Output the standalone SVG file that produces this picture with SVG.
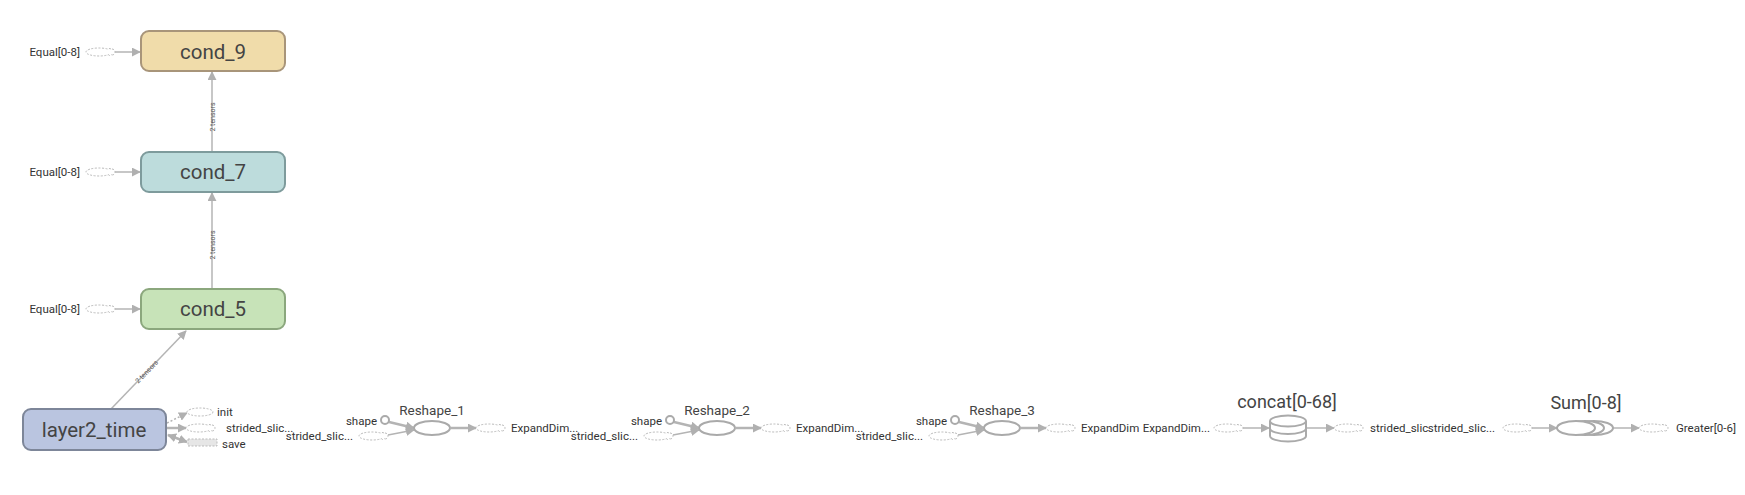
<svg xmlns="http://www.w3.org/2000/svg" width="1745" height="495" viewBox="0 0 1745 495">
<style>
text{font-family:Roboto,"Liberation Sans",sans-serif;fill:#333}
.lbl{font-size:11.5px;dominant-baseline:central}
.big{font-size:20.5px;text-anchor:middle;dominant-baseline:central;fill:#444}
.op{font-size:13.5px;text-anchor:middle;fill:#444}
.grp{font-size:18px;text-anchor:middle;fill:#444}
.et{font-size:7px;text-anchor:middle;dominant-baseline:central;fill:#555}
.e{stroke:#b4b4b4;stroke-width:1.5;fill:none}
.ew{stroke:#b4b4b4;stroke-width:2.5;fill:none}
.dot{stroke:#b4b4b4;stroke-width:1.5;fill:none;stroke-dasharray:2,2}
.ser{stroke:#bbb;stroke-width:1;fill:#fff;stroke-dasharray:2,1.5}
.opn{stroke:#aaa;stroke-width:2;fill:#fff}
</style>
<defs>
<marker id="ah" viewBox="0 0 10 10" refX="9" refY="5" markerWidth="9" markerHeight="9" markerUnits="userSpaceOnUse" orient="auto-start-reverse"><path d="M0,0 L10,5 L0,10 z" fill="#b0b0b0"/></marker>
<g id="sn">
<ellipse class="ser" cx="-1" cy="0" rx="13" ry="4"/>
<path class="ser" d="M9,-3.5 A4,3.5 0 0 1 9,3.5" fill="none"/>
<path class="ser" d="M12,-3 A3,3 0 0 1 12,3" fill="none"/>
</g>
</defs>

<g id="connectors">
<line class="e" x1="102" y1="52" x2="140" y2="52" marker-end="url(#ah)"/>
<line class="e" x1="102" y1="172" x2="140" y2="172" marker-end="url(#ah)"/>
<line class="e" x1="102" y1="309" x2="140" y2="309" marker-end="url(#ah)"/>
<line class="e" x1="212" y1="289" x2="212" y2="193" marker-end="url(#ah)"/>
<text class="et" transform="translate(213,245) rotate(-90)">2 tensors</text>
<line class="e" x1="212" y1="152" x2="212" y2="72" marker-end="url(#ah)"/>
<text class="et" transform="translate(213,117) rotate(-90)">2 tensors</text>
<line class="e" x1="111" y1="409" x2="186" y2="331" marker-end="url(#ah)"/>
<text class="et" transform="translate(147,372) rotate(-46)">2 tensors</text>
<line class="dot" x1="167" y1="423" x2="187" y2="413" marker-end="url(#ah)"/>
<line class="ew" x1="167" y1="428" x2="186" y2="428" marker-end="url(#ah)"/>
<line class="ew" x1="168" y1="435" x2="187" y2="442" marker-start="url(#ah)" marker-end="url(#ah)"/>
<!-- Reshape_1 -->
<line class="ew" x1="389" y1="422" x2="414" y2="428" marker-end="url(#ah)"/>
<line class="e" x1="388" y1="435" x2="414" y2="430" marker-end="url(#ah)"/>
<line class="ew" x1="451" y1="428" x2="476" y2="428" marker-end="url(#ah)"/>
<!-- Reshape_2 -->
<line class="ew" x1="674" y1="422" x2="699" y2="428" marker-end="url(#ah)"/>
<line class="e" x1="673" y1="435" x2="699" y2="430" marker-end="url(#ah)"/>
<line class="ew" x1="736" y1="428" x2="761" y2="428" marker-end="url(#ah)"/>
<!-- Reshape_3 -->
<line class="ew" x1="959" y1="422" x2="984" y2="428" marker-end="url(#ah)"/>
<line class="e" x1="958" y1="435" x2="984" y2="430" marker-end="url(#ah)"/>
<line class="ew" x1="1021" y1="428" x2="1046" y2="428" marker-end="url(#ah)"/>
<!-- concat -->
<line class="e" x1="1242" y1="428" x2="1269" y2="428" marker-end="url(#ah)"/>
<line class="e" x1="1307" y1="428" x2="1334" y2="428" marker-end="url(#ah)"/>
<!-- Sum -->
<line class="e" x1="1531" y1="428" x2="1557" y2="428" marker-end="url(#ah)"/>
<line class="e" x1="1613" y1="428" x2="1639" y2="428" marker-end="url(#ah)"/>
</g>

<g id="cond_9">
<rect x="141" y="31" width="144" height="40" rx="8" fill="#f0dcaa" stroke="#a8957a" stroke-width="2"/>
<text class="big" x="213" y="52">cond_9</text>
</g>
<g id="equal_9"><use href="#sn" x="100" y="52"/><text class="lbl" x="80" y="52" text-anchor="end">Equal[0-8]</text></g>

<g id="cond_7">
<rect x="141" y="152" width="144" height="40" rx="8" fill="#bddcdc" stroke="#7e9b9c" stroke-width="2"/>
<text class="big" x="213" y="172">cond_7</text>
</g>
<g id="equal_7"><use href="#sn" x="100" y="172"/><text class="lbl" x="80" y="172" text-anchor="end">Equal[0-8]</text></g>

<g id="cond_5">
<rect x="141" y="289" width="144" height="40" rx="8" fill="#c7e3b8" stroke="#8ba77d" stroke-width="2"/>
<text class="big" x="213" y="309">cond_5</text>
</g>
<g id="equal_5"><use href="#sn" x="100" y="309"/><text class="lbl" x="80" y="309" text-anchor="end">Equal[0-8]</text></g>

<g id="layer2_time">
<rect x="23" y="409" width="143" height="41" rx="8" fill="#bac5e0" stroke="#7d8699" stroke-width="2"/>
<text class="big" x="94" y="430">layer2_time</text>
</g>
<g id="init"><ellipse class="ser" cx="200" cy="412" rx="13" ry="4"/><text class="lbl" x="217" y="412">init</text></g>
<g id="strided_0"><use href="#sn" x="200" y="428"/><text class="lbl" x="226" y="428">strided_slic...</text></g>
<g id="save"><rect x="188" y="439" width="29" height="7" fill="#e6e6e6" stroke="#bbb" stroke-dasharray="2,1.5"/><text class="lbl" x="222" y="444">save</text></g>

<g id="Reshape_1">
<text class="op" x="432" y="415">Reshape_1</text>
<ellipse class="opn" cx="432" cy="428" rx="18" ry="7"/>
<circle class="opn" cx="385" cy="420" r="4"/>
<text class="lbl" x="377" y="421" text-anchor="end">shape</text>
<use href="#sn" x="373" y="436"/>
<text class="lbl" x="353" y="436" text-anchor="end">strided_slic...</text>
<use href="#sn" x="490" y="428"/>
<text class="lbl" x="511" y="428">ExpandDim...</text>
</g>

<g id="Reshape_2">
<text class="op" x="717" y="415">Reshape_2</text>
<ellipse class="opn" cx="717" cy="428" rx="18" ry="7"/>
<circle class="opn" cx="670" cy="420" r="4"/>
<text class="lbl" x="662" y="421" text-anchor="end">shape</text>
<use href="#sn" x="658" y="436"/>
<text class="lbl" x="638" y="436" text-anchor="end">strided_slic...</text>
<use href="#sn" x="775" y="428"/>
<text class="lbl" x="796" y="428">ExpandDim...</text>
</g>

<g id="Reshape_3">
<text class="op" x="1002" y="415">Reshape_3</text>
<ellipse class="opn" cx="1002" cy="428" rx="18" ry="7"/>
<circle class="opn" cx="955" cy="420" r="4"/>
<text class="lbl" x="947" y="421" text-anchor="end">shape</text>
<use href="#sn" x="943" y="436"/>
<text class="lbl" x="923" y="436" text-anchor="end">strided_slic...</text>
<use href="#sn" x="1060" y="428"/>
<text class="lbl" x="1081" y="428">ExpandDim</text>
</g>

<g id="concat">
<text class="grp" x="1287" y="408">concat[0-68]</text>
<use href="#sn" x="1228" y="428"/>
<text class="lbl" x="1210" y="428" text-anchor="end">ExpandDim...</text>
<g stroke="#aaa" stroke-width="2" fill="#fff">
<path d="M1270,421 L1270,436 A18,5.5 0 0 0 1306,436 L1306,421"/>
<ellipse cx="1288" cy="421" rx="18" ry="5.5"/>
<path d="M1270,428.5 A18,5.5 0 0 0 1306,428.5" fill="none"/>
</g>
<use href="#sn" x="1348" y="428"/>
<text class="lbl" x="1370" y="428">strided_slic</text>
</g>

<g id="Sum">
<text class="grp" x="1586" y="409">Sum[0-8]</text>
<use href="#sn" x="1517" y="428"/>
<text class="lbl" x="1495" y="428" text-anchor="end">strided_slic...</text>
<g stroke="#aaa" stroke-width="2" fill="#fff">
<ellipse cx="1594" cy="428" rx="19" ry="7"/>
<ellipse cx="1585" cy="428" rx="19" ry="7"/>
<ellipse cx="1576" cy="428" rx="19" ry="7"/>
</g>
<use href="#sn" x="1653" y="428"/>
<text class="lbl" x="1676" y="428">Greater[0-6]</text>
</g>
</svg>
